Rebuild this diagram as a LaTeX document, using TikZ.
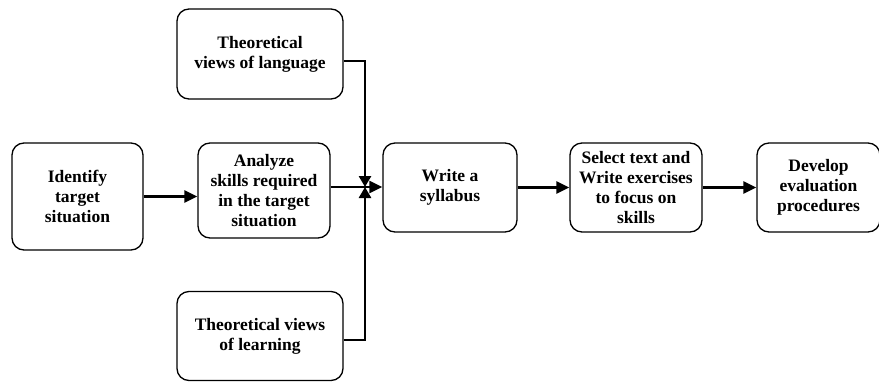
\documentclass[tikz,border=0pt]{standalone}
\usepackage{fontspec}
\setmainfont{Liberation Serif}
\usetikzlibrary{arrows.meta}
\begin{document}
\begin{tikzpicture}[x=1pt,y=-1pt,
        stage/.style={draw,line width=1.3pt,rounded corners=12pt,align=center,inner sep=2pt,
                font=\bfseries\fontsize{17.5}{20}\selectfont,minimum width=132pt,minimum height=89pt},
        flow/.style={-{Triangle[length=13pt,width=12pt]},line width=2.6pt},
        feed/.style={-{Triangle[length=11pt,width=12pt]},line width=2.6pt}]
        \useasboundingbox (0,0) rectangle (879,381);

        \node[stage,minimum width=131pt,minimum height=107pt] (ident) at (77.5,196.5) {Identify\\target\\situation};
        \node[stage,minimum height=95pt] (analyze) at (264,190.5) {Analyze\\skills required\\in the target\\situation};

        \node[stage,minimum width=166pt,minimum height=90pt] (lang) at (260,54) {Theoretical\\views of language};
        \node[stage,minimum width=166pt] (learn) at (260,336) {Theoretical views\\of learning};

        \node[stage,minimum width=134pt] (syll) at (450,187.5) {Write a\\syllabus};
        \node[stage] (select) at (636,187.5) {Select text and\\Write exercises\\to focus on\\skills};
        \node[stage,minimum width=123pt] (devel) at (818.5,187.5) {Develop\\evaluation\\procedures};

        \coordinate (meet) at (365,187);

        \draw[flow] (ident.east) -- (analyze.west |- ident.east);
        \draw[flow] (analyze.east |- meet) -- (syll.west |- meet);
        \draw[feed] ([yshift=-7pt]lang.east) -| (meet);
        \draw[feed] ([yshift=-4pt]learn.east) -| (meet);
        \draw[flow] (syll) -- (select);
        \draw[flow] (select) -- (devel);

    \end{tikzpicture}
\end{document}
